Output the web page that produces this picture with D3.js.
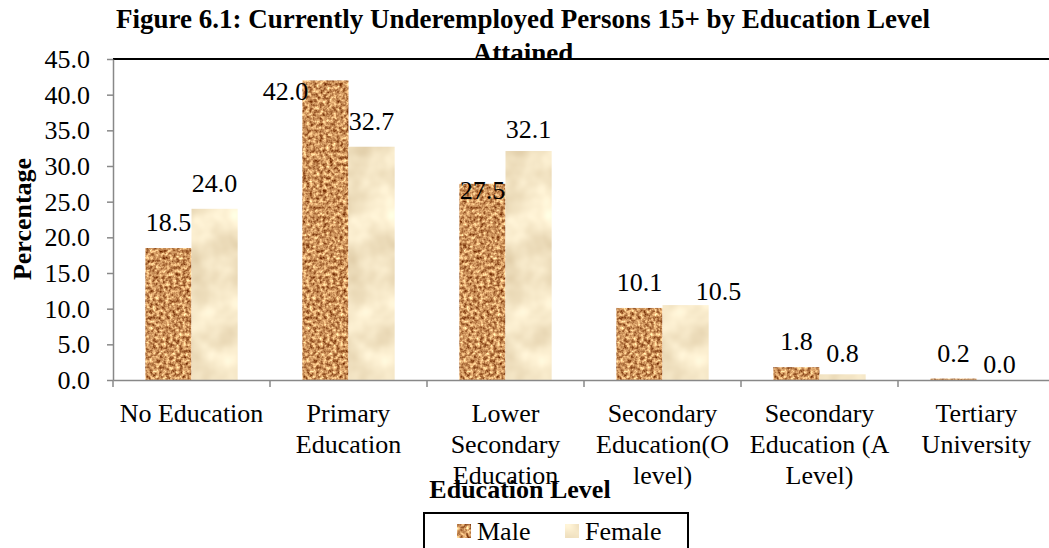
<!DOCTYPE html>
<html>
<head>
<meta charset="utf-8">
<script src="https://cdn.jsdelivr.net/npm/d3@7"></script>
<style>
  body { margin: 0; background: #fff; }
  svg { display: block; }
  svg text { font-family: "Liberation Serif", "Times New Roman", serif; fill: #000; }
</style>
</head>
<body>
<div id="chart"></div>
<script>
// Chart data
const categories = [
  ["No Education"],
  ["Primary", "Education"],
  ["Lower", "Secondary", "Education"],
  ["Secondary", "Education(O", "level)"],
  ["Secondary", "Education (A", "Level)"],
  ["Tertiary", "University"]
];
const seriesNames = ["Male", "Female"];
const maleValues = [18.5, 42.0, 27.5, 10.1, 1.8, 0.2];
const femaleValues = [24.0, 32.7, 32.1, 10.5, 0.8, 0.0];
const yTicks = [0, 5, 10, 15, 20, 25, 30, 35, 40, 45];

const width = 1049, height = 548;
const margin = { left: 113, top: 59, right: 1055, bottom: 380 };
const FONT = "'Liberation Serif', 'Times New Roman', serif";

const svg = d3.select("#chart").append("svg")
  .attr("width", width)
  .attr("height", height);

// textures for the bars (noise alpha channel drives the colour)
const defs = svg.append("defs");
function texture(id, freq, rows) {
  const f = defs.append("filter").attr("id", id)
    .attr("color-interpolation-filters", "sRGB")
    .attr("x", 0).attr("y", 0).attr("width", 1).attr("height", 1);
  f.append("feTurbulence").attr("type", "fractalNoise")
    .attr("baseFrequency", freq).attr("numOctaves", 3).attr("seed", 7).attr("result", "noise");
  f.append("feColorMatrix").attr("in", "noise").attr("type", "matrix")
    .attr("values", rows).attr("result", "col");
  f.append("feComposite").attr("in", "col").attr("in2", "SourceGraphic").attr("operator", "in");
}
texture("maleTex", 0.3,
  "0 0 0 1.0 0.3  0 0 0 1.15 0.0  0 0 0 1.0 -0.14  0 0 0 0 1");
texture("femaleTex", 0.03,
  "0 0 0 0.2 0.86  0 0 0 0.25 0.78  0 0 0 0.3 0.63  0 0 0 0 1");
const texById = { Male: "url(#maleTex)", Female: "url(#femaleTex)" };

// title (second line partly hidden behind plot area, as in the original)
const title = svg.append("text")
  .attr("text-anchor", "middle")
  .style("font-weight", "bold").style("font-size", "27px");
title.append("tspan").attr("x", 523).attr("y", 28)
  .text("Figure 6.1: Currently Underemployed Persons 15+ by Education Level");
title.append("tspan").attr("x", 523).attr("y", 62).text("Attained");

// plot area
svg.append("rect")
  .attr("x", margin.left).attr("y", margin.top)
  .attr("width", margin.right - margin.left)
  .attr("height", margin.bottom - margin.top)
  .attr("fill", "#fff");
svg.append("line")
  .attr("x1", margin.left).attr("x2", margin.right)
  .attr("y1", margin.top).attr("y2", margin.top)
  .attr("stroke", "#000").attr("stroke-width", 2);

const x0 = d3.scaleBand()
  .domain(d3.range(categories.length))
  .range([margin.left, margin.right])
  .paddingInner(0).paddingOuter(0);
const x1 = d3.scaleBand()
  .domain(seriesNames)
  .range([0, x0.bandwidth()])
  .paddingInner(0).paddingOuter(0.7);
const y = d3.scaleLinear().domain([0, 45]).range([margin.bottom, margin.top]);

// y axis
const yAxis = svg.append("g")
  .attr("transform", `translate(${margin.left},0)`)
  .call(d3.axisLeft(y).tickValues(yTicks).tickSize(6).tickSizeOuter(0)
    .tickFormat(d3.format(".1f")));
yAxis.attr("font-family", FONT).attr("font-size", 26);
yAxis.select(".domain").attr("stroke", "#888").attr("stroke-width", 1.5);
yAxis.selectAll(".tick line").attr("stroke", "#888").attr("stroke-width", 1.5);
yAxis.selectAll(".tick text")
  .attr("x", -23).attr("dy", "0.33em").attr("fill", "#000");

// bars
const rows = categories.map((c, i) => [
  { key: "Male", value: maleValues[i], i },
  { key: "Female", value: femaleValues[i], i }
]);
const groups = svg.append("g").selectAll("g")
  .data(rows).join("g")
  .attr("transform", (d, i) => `translate(${x0(i)},0)`);
groups.selectAll("rect")
  .data(d => d).join("rect")
  .attr("x", d => x1(d.key))
  .attr("y", d => y(d.value))
  .attr("width", x1.bandwidth())
  .attr("height", d => y(0) - y(d.value))
  .attr("fill", "#c58c58")
  .attr("filter", d => texById[d.key]);

// label nudges where the original shifted labels to avoid overlap
const nudge = {
  "1-Male": [-40, 37], "2-Male": [0, 32], "2-Female": [0, 4],
  "3-Female": [33, 12], "4-Female": [0, 5], "5-Female": [0, 10]
};
const nd = d => nudge[d.i + "-" + d.key] || [0, 0];
groups.selectAll("text")
  .data(d => d).join("text")
  .attr("x", d => x1(d.key) + x1.bandwidth() / 2 + nd(d)[0])
  .attr("y", d => y(d.value) - 17 + nd(d)[1])
  .attr("text-anchor", "middle")
  .style("font-size", "26px")
  .text(d => d.value.toFixed(1));

// x axis
const xAxis = svg.append("g")
  .attr("transform", `translate(0,${margin.bottom})`)
  .call(d3.axisBottom(x0).tickSize(0).tickFormat(""));
xAxis.select(".domain").attr("stroke", "#888").attr("stroke-width", 1.5);
xAxis.selectAll(".tick").remove();
xAxis.selectAll(".sep")
  .data(d3.range(categories.length + 1)).join("line")
  .attr("x1", i => margin.left + i * x0.step())
  .attr("x2", i => margin.left + i * x0.step())
  .attr("y1", 0).attr("y2", 7)
  .attr("stroke", "#888").attr("stroke-width", 1.5);

const catLabels = svg.append("g").selectAll("text")
  .data(categories).join("text")
  .attr("text-anchor", "middle")
  .style("font-size", "26px");
catLabels.selectAll("tspan")
  .data((d, i) => d.map(line => ({ line, i })))
  .join("tspan")
  .attr("x", d => x0(d.i) + x0.bandwidth() / 2)
  .attr("y", (d, j) => 422 + j * 31)
  .text(d => d.line);

// axis titles
svg.append("text")
  .attr("x", 520).attr("y", 498)
  .attr("text-anchor", "middle")
  .style("font-weight", "bold").style("font-size", "26px")
  .text("Education Level");
svg.append("text")
  .attr("transform", "translate(31,219) rotate(-90)")
  .attr("text-anchor", "middle")
  .style("font-weight", "bold").style("font-size", "26px")
  .text("Percentage");

// legend
const legend = svg.append("g");
legend.append("rect")
  .attr("x", 424).attr("y", 513).attr("width", 264).attr("height", 45)
  .attr("fill", "#fff").attr("stroke", "#000").attr("stroke-width", 2);
const legendX = { Male: 457, Female: 565 };
const li = legend.selectAll("g.item").data(seriesNames).join("g")
  .attr("transform", d => `translate(${legendX[d]},0)`);
li.append("rect")
  .attr("x", 0).attr("y", 524).attr("width", 14).attr("height", 14)
  .attr("fill", "#c58c58")
  .attr("filter", d => texById[d]);
li.append("text")
  .attr("x", 20).attr("y", 540)
  .style("font-size", "26px")
  .text(d => d);
</script>
</body>
</html>
